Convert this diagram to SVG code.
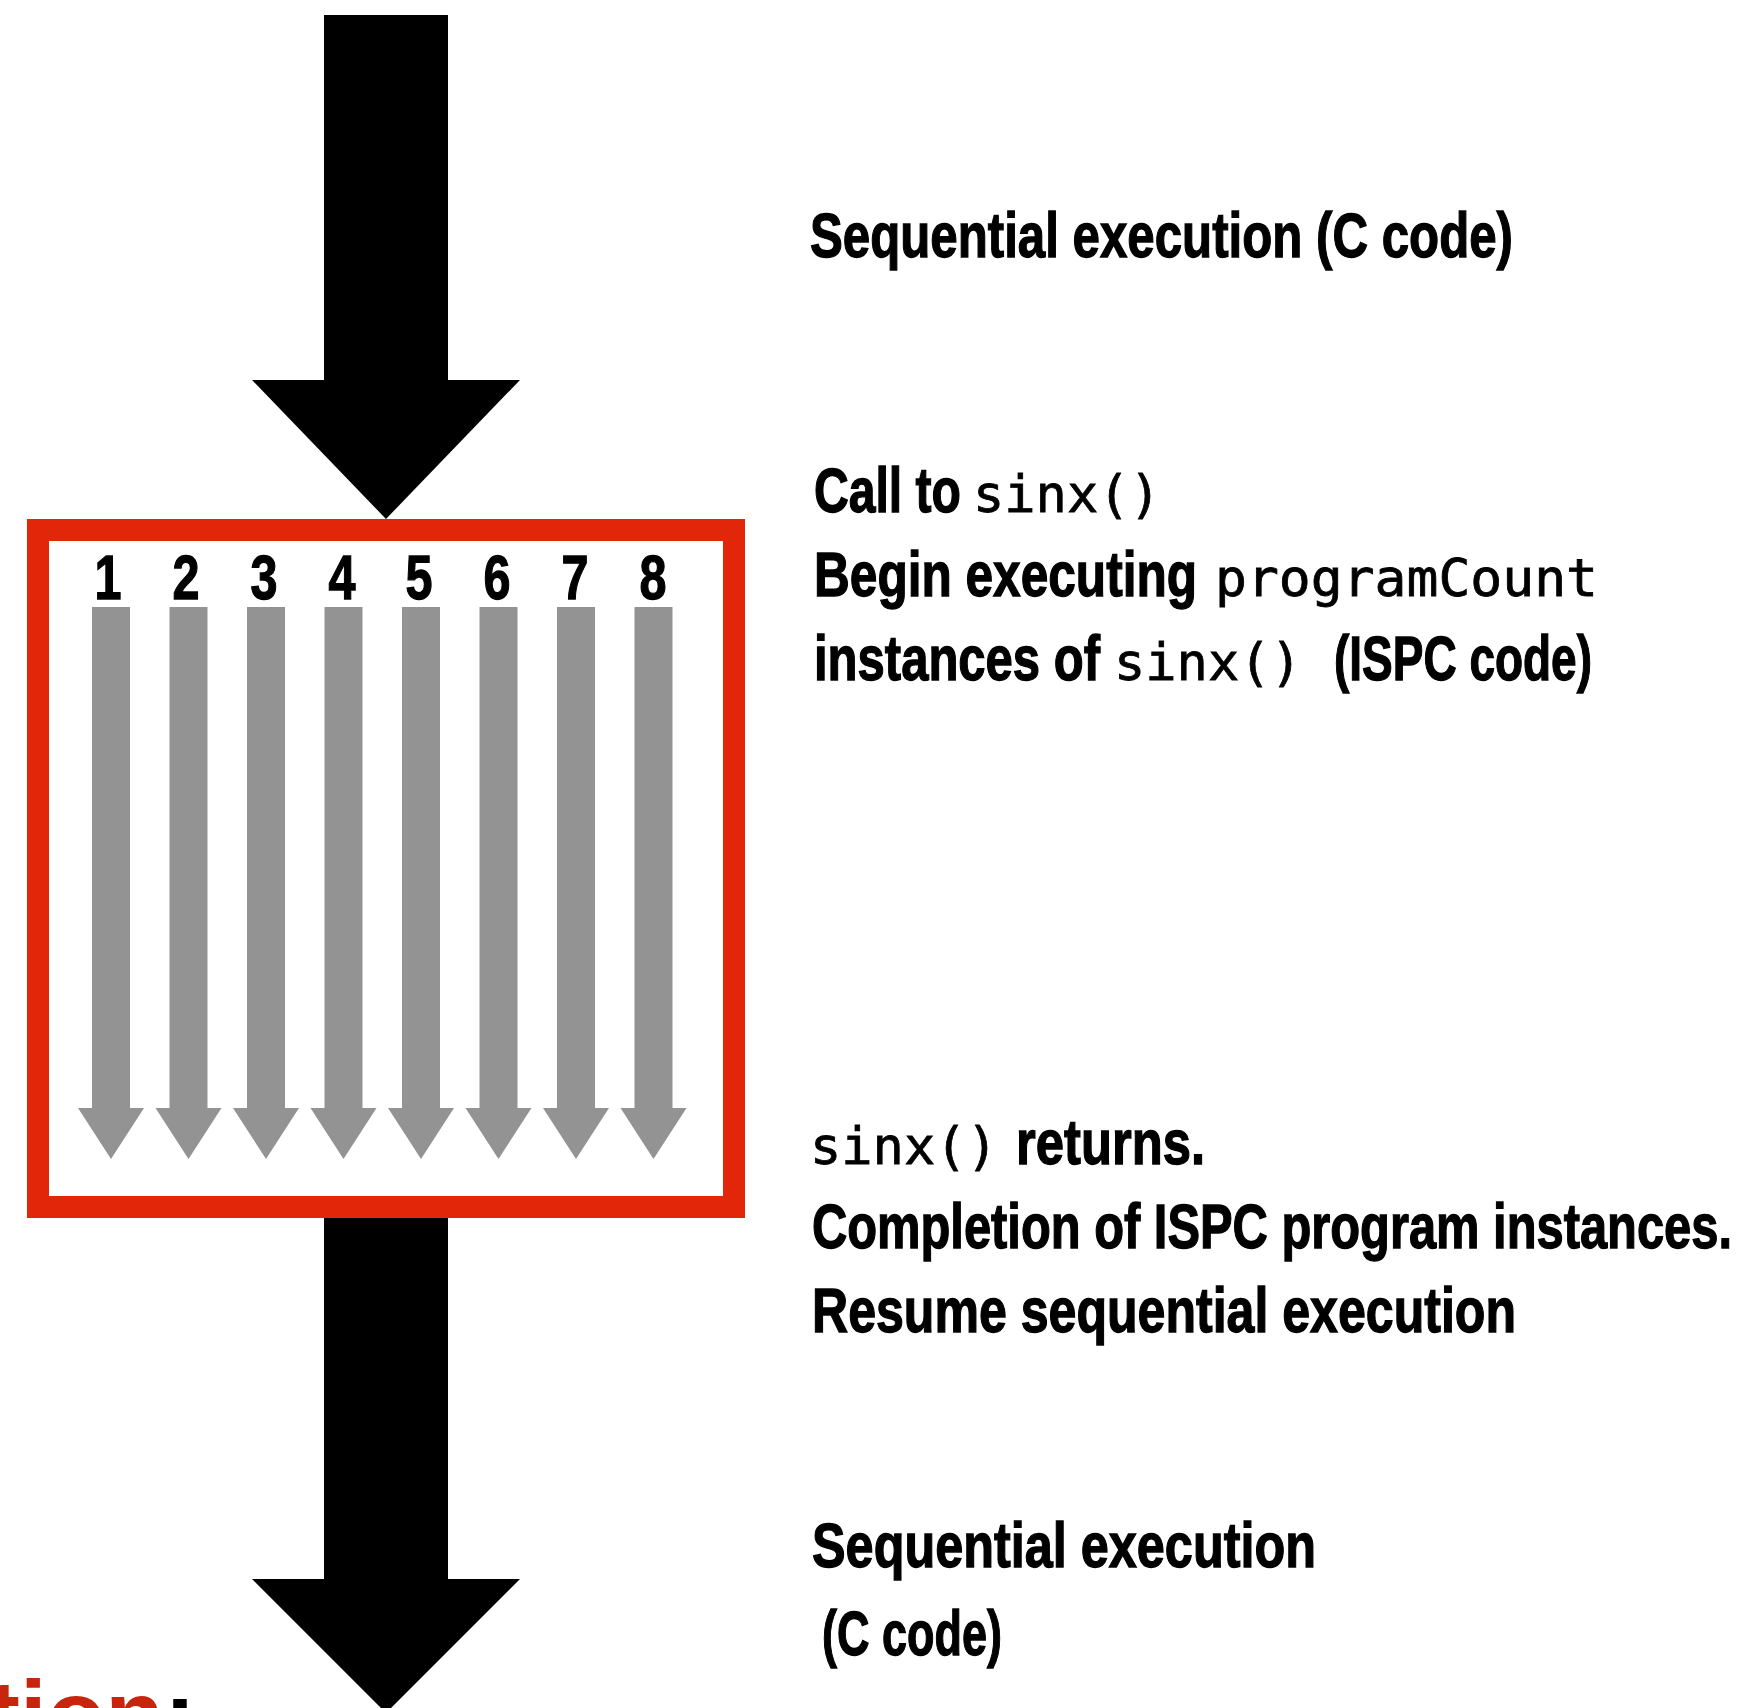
<svg xmlns="http://www.w3.org/2000/svg" width="1752" height="1708" viewBox="0 0 1752 1708">
  <style>
    .lbl { font-family: "Liberation Sans", Arial, sans-serif; font-weight: bold; font-size: 63px; fill: #000; stroke: #000; stroke-width: 1.3px; }
    .mono { font-family: "DejaVu Sans Mono", "Liberation Mono", monospace; font-weight: normal; font-size: 52px; fill: #000; stroke: #000; stroke-width: 0.8px; }
    .num { font-family: "Liberation Sans", Arial, sans-serif; font-weight: bold; font-size: 63px; fill: #000; stroke: #000; stroke-width: 1.3px; text-anchor: middle; }
    .lane { fill: #939393; }
    .big { fill: #000; }
  </style>
  <defs>
    <path id="lane" d="M -19 607 L 19 607 L 19 1108 L 33 1108 L 0 1159 L -33 1108 L -19 1108 Z"/>
  </defs>
  <rect width="1752" height="1708" fill="#fff"/>

  <g id="connectors">
    <path class="big" d="M 324 15 L 448 15 L 448 380 L 520 380 L 386 519 L 252 380 L 324 380 Z"/>
    <path class="big" d="M 324 1218 L 448 1218 L 448 1579 L 520 1579 L 386 1713 L 252 1579 L 324 1579 Z"/>
  </g>

  <g id="ispc-block">
    <rect x="38" y="530" width="696" height="677" fill="#fff" stroke="#E1260A" stroke-width="22"/>
    <g id="lanes">
      <use href="#lane" class="lane" x="111"/>
      <use href="#lane" class="lane" x="188.5"/>
      <use href="#lane" class="lane" x="266"/>
      <use href="#lane" class="lane" x="343.5"/>
      <use href="#lane" class="lane" x="421"/>
      <use href="#lane" class="lane" x="498.5"/>
      <use href="#lane" class="lane" x="576"/>
      <use href="#lane" class="lane" x="653.5"/>
    </g>
    <g id="lane-numbers">
      <text class="num" x="108" y="599" textLength="27" lengthAdjust="spacingAndGlyphs">1</text>
      <text class="num" x="186" y="599" textLength="27" lengthAdjust="spacingAndGlyphs">2</text>
      <text class="num" x="264" y="599" textLength="27" lengthAdjust="spacingAndGlyphs">3</text>
      <text class="num" x="342" y="599" textLength="27" lengthAdjust="spacingAndGlyphs">4</text>
      <text class="num" x="419" y="599" textLength="27" lengthAdjust="spacingAndGlyphs">5</text>
      <text class="num" x="497" y="599" textLength="27" lengthAdjust="spacingAndGlyphs">6</text>
      <text class="num" x="575" y="599" textLength="27" lengthAdjust="spacingAndGlyphs">7</text>
      <text class="num" x="653" y="599" textLength="27" lengthAdjust="spacingAndGlyphs">8</text>
    </g>
  </g>

  <g id="label-sequential-top">
    <text class="lbl" x="810" y="257" textLength="703" lengthAdjust="spacingAndGlyphs">Sequential execution (C code)</text>
  </g>

  <g id="label-call">
    <text class="lbl" y="512"><tspan x="814" textLength="147" lengthAdjust="spacingAndGlyphs">Call to</tspan><tspan class="mono" x="973">sinx()</tspan></text>
    <text class="lbl" y="596"><tspan x="814" textLength="383" lengthAdjust="spacingAndGlyphs">Begin executing</tspan><tspan class="mono" x="1215" textLength="383" lengthAdjust="spacingAndGlyphs">programCount</tspan></text>
    <text class="lbl" y="680"><tspan x="814" textLength="286" lengthAdjust="spacingAndGlyphs">instances of</tspan><tspan class="mono" x="1114">sinx()</tspan><tspan x="1334" textLength="258" lengthAdjust="spacingAndGlyphs">(ISPC code)</tspan></text>
  </g>

  <g id="label-return">
    <text class="lbl" y="1164"><tspan class="mono" x="810">sinx()</tspan><tspan x="1016" textLength="189" lengthAdjust="spacingAndGlyphs">returns.</tspan></text>
    <text class="lbl" x="812" y="1248" textLength="920" lengthAdjust="spacingAndGlyphs">Completion of ISPC program instances.</text>
    <text class="lbl" x="812" y="1332" textLength="704" lengthAdjust="spacingAndGlyphs">Resume sequential execution</text>
  </g>

  <g id="label-sequential-bottom">
    <text class="lbl" x="812" y="1567" textLength="504" lengthAdjust="spacingAndGlyphs">Sequential execution</text>
    <text class="lbl" x="822" y="1655" textLength="180" lengthAdjust="spacingAndGlyphs">(C code)</text>
  </g>

  <g id="cut-title">
    <text x="-12" y="1748" font-family="'Liberation Sans', Arial, sans-serif" font-weight="bold" font-size="96" fill="#C8250E">tion<tspan fill="#000">:</tspan></text>
  </g>
</svg>
